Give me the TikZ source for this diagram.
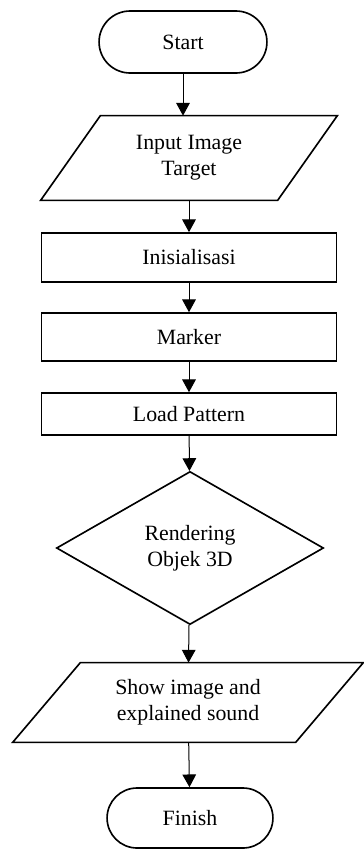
\documentclass[tikz,border=0pt]{standalone}
\usepackage{fontspec}
\setmainfont{Liberation Serif}
\usepackage{tikz}
\usetikzlibrary{shapes.geometric}
\usetikzlibrary{shapes.misc}
\usetikzlibrary{arrows.meta}
\tikzset{
	termstyle/.style={rounded rectangle,draw=black,line width=0.9pt,fill=white},
	iostyle/.style={rectangle,align=center},
	iolinestyle/.style={draw=black,line width=0.9pt,line join=miter},
	procstyle/.style={rectangle,draw=black,line width=0.9pt,fill=white,minimum width=162.3pt},
	decstyle/.style={diamond,aspect=1.75,draw=black,line width=0.9pt,fill=white,align=center},
	flowarrow/.style={line width=0.55pt,-{Triangle[length=7pt,width=7.5pt]}}
}

\begin{document}
\begin{tikzpicture}[x=0.55pt,y=-0.55pt,font=\fontsize{12}{14.5}\selectfont]
	\useasboundingbox (0,0) rectangle (363,849);
	\node[termstyle,minimum width=99pt,minimum height=34.1pt] (start) at (183,42) {Start};
	\node[iostyle,minimum width=162.8pt,minimum height=46.2pt] (input) at (189,158) {Input Image\\Target};
	\draw[iolinestyle] (input.south west) -- ++(237,0) -- (input.north east) -- ++(-237,0) -- cycle;
	\draw[flowarrow] (start.south)--(start.south |- input.north);
	\node[procstyle,minimum height=27pt] (init) at (189,257.5) {Inisialisasi};
	\draw[flowarrow] (input)--(init);
	\node[procstyle,minimum height=26.4pt] (marker) at (189,337) {Marker};
	\draw[flowarrow] (init)--(marker);
	\node[procstyle,minimum height=23.1pt] (load) at (189,414) {Load Pattern};
	\draw[flowarrow] (marker)--(load);
	\node[decstyle,minimum width=146.9pt,minimum height=84.2pt] (render) at (190,548) {Rendering\\Objek 3D};
	\draw[flowarrow] (load)--(render);
	\node[iostyle,minimum width=192.5pt,minimum height=43.5pt] (show) at (188,702.5) {Show image and\\explained sound};
	\draw[iolinestyle] (show.south west) -- ++(283,0) -- (show.north east) -- ++(-283,0) -- cycle;
	\draw[flowarrow] (render)--(show);
	\node[termstyle,minimum width=97.9pt,minimum height=33pt] (finish) at (190,818) {Finish};
	\draw[flowarrow] (show)--(finish);
\end{tikzpicture}
\end{document}
